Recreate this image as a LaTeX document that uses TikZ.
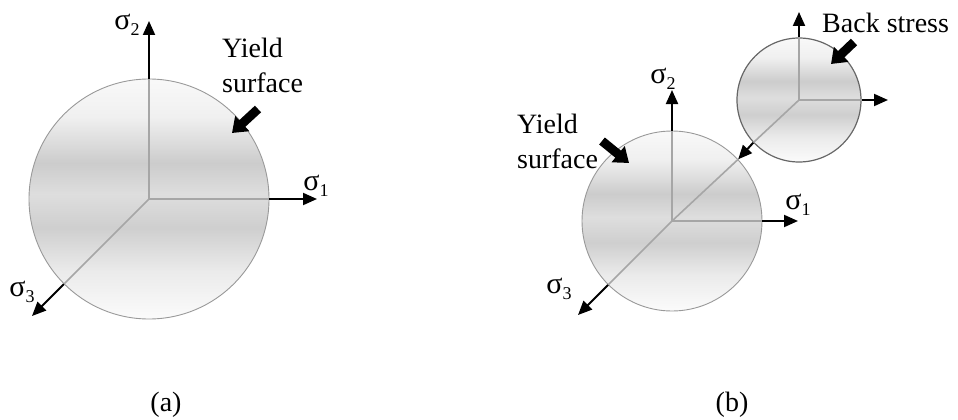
\documentclass[tikz,border=0pt]{standalone}
\usepackage{fontspec}
\setmainfont{Liberation Serif}
\usetikzlibrary{arrows.meta}
\definecolor{sA}{gray}{0.985}
\definecolor{sB}{gray}{0.92}
\definecolor{sC}{gray}{0.80}
\definecolor{sD}{gray}{0.87}
\definecolor{sE}{gray}{0.81}
\definecolor{sF}{gray}{0.94}
\definecolor{sG}{gray}{0.975}
\pgfdeclareverticalshading{diskshade}{100bp}{%
  color(0bp)=(sA); color(25bp)=(sA); color(35bp)=(sB); color(44bp)=(sE);
  color(51bp)=(sD); color(57.5bp)=(sC); color(67bp)=(sF);
  color(75bp)=(sG); color(100bp)=(sG)}
\newcommand\sigl[1]{{\fontsize{30}{30}\selectfont σ}\raisebox{-0.2em}{\fontsize{18}{18}\selectfont #1}}
\begin{document}
\begin{tikzpicture}[x=1pt,y=-1pt,
  every node/.style={font=\fontsize{28}{35}\selectfont, inner sep=0pt},
  disk/.style={circle, inner sep=0pt, shade, shading=diskshade, draw=black!40, line width=0.9pt},
  inaxis/.style={draw=black!35, line width=1.6pt},
  axis/.style={line width=2pt, -{Triangle[length=14pt,width=12pt]}},
  pointer/.style={line width=9pt, -{Triangle[length=14pt,width=20pt]}}]

\useasboundingbox (0,0) rectangle (958,420);

% ---------- panel (a) ----------
\node[disk, minimum size=240pt] (ca) at (149,199) {};
\coordinate (a2) at (149,21);
\coordinate (a1) at (317,199);
\coordinate (a3) at (32,316);
\draw[inaxis] (ca.center) -- (ca.north);
\draw[inaxis] (ca.center) -- (ca.east);
\draw[inaxis] (ca.center) -- (ca.south west);
\draw[axis] (ca.north) -- (a2);
\draw[axis] (ca.east) -- (a1);
\draw[axis] (ca.south west) -- (a3);
\node (la2) at (127,25) {\sigl{2}};
\node (la1) at (316,186) {\sigl{1}};
\node (la3) at (22,292) {\sigl{3}};
\node[anchor=north west, align=left] (ya) at (222,38) {Yield\\surface};
\coordinate (ya0) at (258,109);
\coordinate (ya1) at (232,133);
\draw[pointer] (ya0) -- (ya1);
\node (capa) at (166,405) {(a)};

% ---------- panel (b) ----------
\node[disk, minimum size=180pt] (bc) at (672,221) {};
\node[disk, minimum size=124pt, draw=black!60, line width=1.2pt] (sc) at (799,100) {};
\coordinate (b2) at (672,90);
\coordinate (b1) at (798,221);
\coordinate (b3) at (578,315);
\coordinate (s2) at (799,12);
\coordinate (s1) at (888,100);
\draw[inaxis] (bc.center) -- (bc.north);
\draw[inaxis] (bc.center) -- (bc.east);
\draw[inaxis] (bc.center) -- (bc.south west);
\draw[inaxis] (bc.center) -- (bc.43.6);
\draw[inaxis] (sc.center) -- (sc.north);
\draw[inaxis] (sc.center) -- (sc.east);
\draw[inaxis] (sc.center) -- (sc.223.6);
\draw[axis] (bc.north) -- (b2);
\draw[axis] (bc.east) -- (b1);
\draw[axis] (bc.south west) -- (b3);
\draw[axis] (sc.north) -- (s2);
\draw[axis] (sc.east) -- (s1);
\draw[axis] (sc.223.6) -- (bc.43.6);
\node (lb2) at (663,79) {\sigl{2}};
\node (lb1) at (798,205) {\sigl{1}};
\node (lb3) at (559,289) {\sigl{3}};
\node[anchor=north west, align=left] (yb) at (517,114) {Yield\\surface};
\coordinate (yb0) at (602,141);
\coordinate (yb1) at (629,163);
\draw[pointer] (yb0) -- (yb1);
\node[anchor=base west] (bs) at (822,33) {Back stress};
\coordinate (bs0) at (854,42);
\coordinate (bs1) at (831,64);
\draw[pointer] (bs0) -- (bs1);
\node (capb) at (732,405) {(b)};
\end{tikzpicture}
\end{document}
